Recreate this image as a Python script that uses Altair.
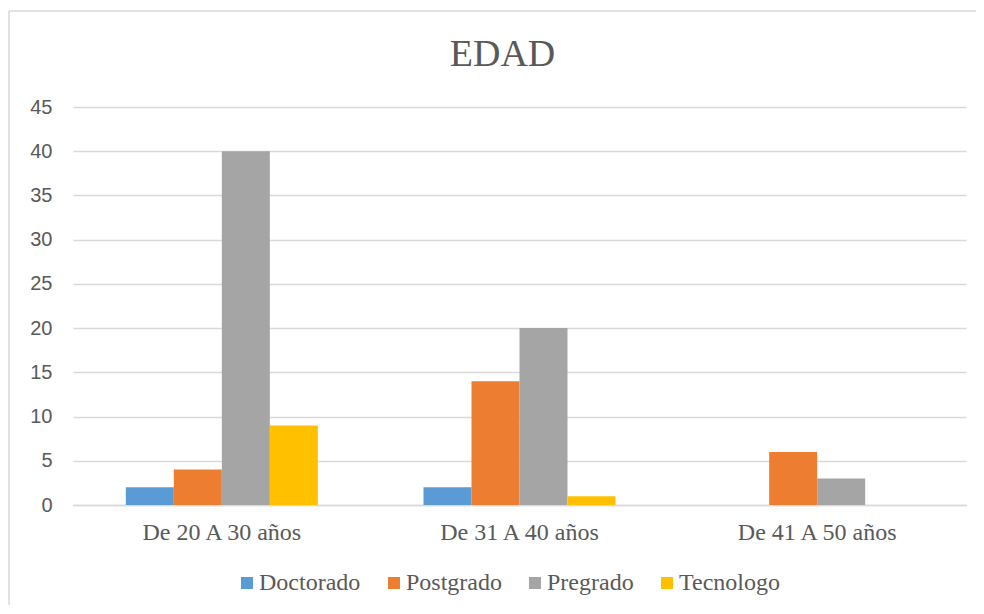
import altair as alt
import pandas as pd

groups = ["De 20 A 30 años", "De 31 A 40 años", "De 41 A 50 años"]
series = ["Doctorado", "Postgrado", "Pregrado", "Tecnologo"]
colors = ["#5B9BD5", "#ED7D31", "#A5A5A5", "#FFC000"]
values = {
    "Doctorado": [2, 2, 0],
    "Postgrado": [4, 14, 6],
    "Pregrado": [40, 20, 3],
    "Tecnologo": [9, 1, 0],
}
y_ticks = [0, 5, 10, 15, 20, 25, 30, 35, 40, 45]
title_text = ["EDAD"]

rows = []
for s in series:
    for g, v in zip(groups, values[s]):
        rows.append({"grupo": g, "serie": s, "valor": v})
df = pd.DataFrame(rows)

W, H = 893, 398
PL, PT, PR, PB = 65, 99, 10, 100

serif = "Liberation Serif"
sans = "Liberation Sans"
gray = "#595959"

bars = alt.Chart(df).mark_bar().encode(
    x=alt.X("grupo:N", sort=groups, title=None,
            scale=alt.Scale(paddingInner=0.355, paddingOuter=0.1775),
            axis=alt.Axis(labelAngle=0, labelFont=serif, labelFontSize=24,
                          labelColor=gray, ticks=False, domain=True,
                          domainColor="#D9D9D9", domainWidth=1.3,
                          labelPadding=15, grid=False)),
    xOffset=alt.XOffset("serie:N", sort=series,
                        scale=alt.Scale(paddingInner=0, paddingOuter=0)),
    y=alt.Y("valor:Q", title=None,
            scale=alt.Scale(domain=[0, 45], nice=False),
            axis=alt.Axis(values=y_ticks, labelFont=sans, labelFontSize=20,
                          labelColor=gray, ticks=False, domain=False,
                          gridColor="#D9D9D9", gridWidth=1.3, labelPadding=21)),
    color=alt.Color("serie:N", sort=series,
                    scale=alt.Scale(domain=series, range=colors),
                    legend=alt.Legend(orient="none", direction="horizontal",
                                      legendX=162, legendY=464,
                                      title=None, symbolType="square",
                                      symbolSize=144, symbolStrokeWidth=0,
                                      labelFont=serif, labelFontSize=24,
                                      labelColor=gray, columnPadding=21,
                                      labelOffset=0)),
)

frame = pd.DataFrame({"a": [0]})
top_line = alt.Chart(frame).mark_rule(
    stroke="#D9D9D9", strokeWidth=1.5, clip=False
).encode(x=alt.value(-64), x2=alt.value(W + 200), y=alt.value(-96))
left_line = alt.Chart(frame).mark_rule(
    stroke="#D9D9D9", strokeWidth=1.5, clip=False
).encode(x=alt.value(-64), y=alt.value(-96), y2=alt.value(H + 100))

title = alt.Chart(pd.DataFrame({"t": title_text})).mark_text(
    font=serif, fontSize=38, color=gray, baseline="alphabetic", align="center",
    clip=False
).encode(text="t:N", x=alt.value(W / 2 - 17), y=alt.value(-41))

chart = alt.layer(top_line, left_line, bars, title).properties(
    width=W, height=H,
    autosize=alt.AutoSizeParams(type="none"),
    padding={"left": PL, "top": PT, "right": PR, "bottom": PB},
    background="white",
).configure_view(strokeWidth=0)

chart.save("out.html", embed_options={"renderer": "svg", "actions": False})
